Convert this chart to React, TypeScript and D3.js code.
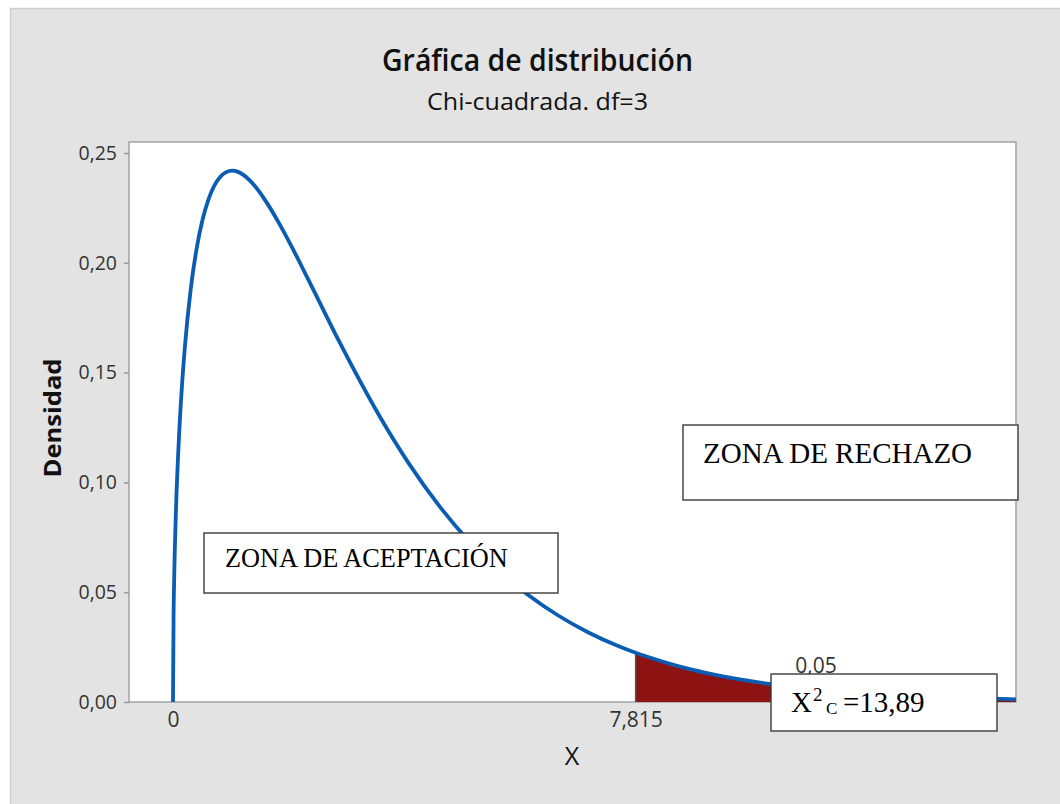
import React, { useEffect, useRef } from 'react';
import * as d3 from 'd3';

// valores (x, densidad)
const xValues = [0, 0.01, 0.02, 0.05, 0.1, 0.15, 0.2, 0.3, 0.4, 0.5, 0.6, 0.7, 0.8, 0.9, 1.0, 1.1, 1.2, 1.4, 1.6, 1.8, 2.0, 2.25, 2.5, 2.75, 3.0, 3.5, 4.0, 4.5, 5.0, 5.5, 6.0, 6.5, 7.0, 7.5, 7.815, 8.0, 8.5, 9.0, 9.5, 10, 11, 12, 13, 14.24];
const densityValues = [0, 0.0397, 0.0559, 0.087, 0.12, 0.1433, 0.1614, 0.1881, 0.2066, 0.2197, 0.2289, 0.2352, 0.2392, 0.2413, 0.242, 0.2414, 0.2398, 0.2344, 0.2267, 0.2176, 0.2076, 0.1943, 0.1807, 0.1672, 0.1542, 0.1297, 0.108, 0.0892, 0.0732, 0.0598, 0.0487, 0.0395, 0.0319, 0.0257, 0.0224, 0.0207, 0.0166, 0.0133, 0.0106, 0.0085, 0.0054, 0.0034, 0.0022, 0.0012];
const criticalValue = 7.815;
const yTicks = [0, 0.05, 0.1, 0.15, 0.2, 0.25];
const xTicks = [0, 7.815];
const xTickLabels = ['0', '7,815'];

const left = 129, right = 1016, top = 142, bottom = 702;

const App = () => {
    const svgRef = useRef(null);

    useEffect(() => {
        const svg = d3.select(svgRef.current);
        svg.selectAll('*').remove();

        const x = d3.scaleLinear().domain([-0.743, 14.24]).range([left, right]);
        const y = d3.scaleLinear().domain([0, 0.255]).range([bottom, top]);
        const data = xValues.map((v, i) => ({x: v, y: densityValues[i]}));
        const locale = d3.formatLocale({decimal: ',', thousands: '.', grouping: [3], currency: ['', '']});

        // fondo gris
        svg.append('rect')
            .attr('x', 10.5).attr('y', 8.5)
            .attr('width', 1100).attr('height', 850)
            .attr('fill', '#e3e3e3').attr('stroke', '#cdcdcd').attr('stroke-width', 1.5);

        // área del gráfico
        svg.append('rect')
            .attr('x', left).attr('y', top)
            .attr('width', right - left).attr('height', bottom - top)
            .attr('fill', '#fff').attr('stroke', '#a3a3a3').attr('stroke-width', 1.5);

        // títulos
        svg.append('text')
            .attr('x', 537.5).attr('y', 71)
            .attr('text-anchor', 'middle')
            .attr('font-family', 'Open Sans, sans-serif').attr('font-weight', 600)
            .attr('font-size', 30).attr('fill', '#111')
            .attr('textLength', 311).attr('lengthAdjust', 'spacingAndGlyphs')
            .text('Gráfica de distribución');
        svg.append('text')
            .attr('x', 537.5).attr('y', 110)
            .attr('text-anchor', 'middle')
            .attr('font-family', 'Open Sans, sans-serif')
            .attr('font-size', 24).attr('fill', '#111')
            .attr('textLength', 221).attr('lengthAdjust', 'spacingAndGlyphs')
            .text('Chi-cuadrada. df=3');

        // zona de rechazo sombreada
        const tail = data.filter(d => d.x >= criticalValue);
        svg.append('path')
            .datum(tail)
            .attr('fill', '#8d1313')
            .attr('d', d3.area().x(d => x(d.x)).y0(y(0)).y1(d => y(d.y)).curve(d3.curveMonotoneX));
        svg.append('line')
            .attr('x1', x(criticalValue)).attr('x2', x(criticalValue))
            .attr('y1', y(0)).attr('y2', y(tail[0].y))
            .attr('stroke', '#555').attr('stroke-width', 1.5);

        // curva
        svg.append('path')
            .datum(data)
            .attr('fill', 'none')
            .attr('stroke', '#0b5cb3')
            .attr('stroke-width', 3.8)
            .attr('d', d3.line().x(d => x(d.x)).y(d => y(d.y)).curve(d3.curveMonotoneX));

        // ejes
        const yAxis = svg.append('g')
            .attr('transform', `translate(${left},0)`)
            .call(d3.axisLeft(y).tickValues(yTicks).tickSize(5).tickPadding(7).tickFormat(locale.format('.2f')));
        yAxis.select('.domain').remove();
        yAxis.selectAll('line').attr('stroke', '#999').attr('stroke-width', 1.5);
        yAxis.selectAll('text')
            .attr('font-family', 'Open Sans, sans-serif').attr('font-size', 19.5).attr('fill', '#333');

        const xAxis = svg.append('g')
            .attr('transform', `translate(0,${bottom})`)
            .call(d3.axisBottom(x).tickValues(xTicks).tickSize(0).tickPadding(10).tickFormat((d, i) => xTickLabels[i]));
        xAxis.select('.domain').remove();
        xAxis.selectAll('text')
            .attr('font-family', 'Open Sans, sans-serif').attr('font-size', 21).attr('fill', '#333');

        svg.append('text')
            .attr('x', 572).attr('y', 765)
            .attr('text-anchor', 'middle')
            .attr('font-family', 'Open Sans, sans-serif')
            .attr('font-size', 25).attr('fill', '#111')
            .text('X');

        svg.append('text')
            .attr('transform', 'translate(61,418) rotate(-90)')
            .attr('text-anchor', 'middle')
            .attr('font-family', 'Open Sans, sans-serif').attr('font-weight', 700)
            .attr('font-size', 23).attr('fill', '#111')
            .attr('textLength', 119).attr('lengthAdjust', 'spacingAndGlyphs')
            .text('Densidad');

        // probabilidad de la cola
        svg.append('text')
            .attr('x', 816).attr('y', 673)
            .attr('text-anchor', 'middle')
            .attr('font-family', 'Open Sans, sans-serif')
            .attr('font-size', 21).attr('fill', '#333')
            .text('0,05');

        // cuadros de texto
        const box = (bx, by, bw, bh) => svg.append('rect')
            .attr('x', bx).attr('y', by).attr('width', bw).attr('height', bh)
            .attr('fill', '#fff').attr('stroke', '#3a3a3a').attr('stroke-width', 1.4);

        box(683, 425, 335, 75);
        svg.append('text')
            .attr('x', 703).attr('y', 463)
            .attr('font-family', 'Liberation Serif, serif')
            .attr('font-size', 29).attr('fill', '#000')
            .text('ZONA DE RECHAZO');

        box(204, 533, 354, 60);
        svg.append('text')
            .attr('x', 225).attr('y', 567)
            .attr('font-family', 'Liberation Serif, serif')
            .attr('font-size', 26.3).attr('fill', '#000')
            .text('ZONA DE ACEPTACIÓN');

        box(771, 674, 226, 57);
        const t = svg.append('text')
            .attr('font-family', 'Liberation Serif, serif')
            .attr('fill', '#000');
        t.append('tspan').attr('x', 791).attr('y', 712).attr('font-size', 29).text('X');
        t.append('tspan').attr('x', 813).attr('y', 701).attr('font-size', 19).text('2');
        t.append('tspan').attr('x', 826).attr('y', 714).attr('font-size', 17).text('C');
        t.append('tspan').attr('x', 843).attr('y', 712).attr('font-size', 29).text('=13,89');
    }, []);

    return (
        <svg ref={svgRef} width={1060} height={804}
             style={{position: 'absolute', left: 0, top: 0, display: 'block'}}></svg>
    );
};

export default App;
